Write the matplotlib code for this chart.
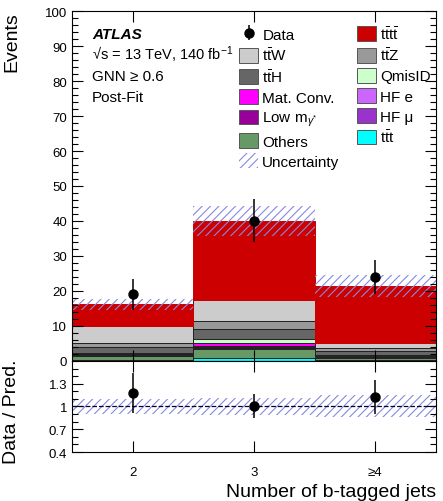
import numpy as np
import matplotlib
matplotlib.use("Agg")
import matplotlib.pyplot as plt
from matplotlib.patches import Patch
from matplotlib.ticker import MultipleLocator, FixedLocator

plt.rcParams['font.family'] = ['Liberation Sans', 'DejaVu Sans']
plt.rcParams['mathtext.fontset'] = 'custom'
plt.rcParams['mathtext.rm'] = 'Liberation Sans'
plt.rcParams['mathtext.it'] = 'Liberation Sans:italic'
plt.rcParams['mathtext.bf'] = 'Liberation Sans:bold'
plt.rcParams['hatch.linewidth'] = 0.8

# ビン (b-tag 数)
bins = [2, 3, 4]
bin_labels = ['2', '3', '≥4']

# データ点
data = [19.0, 40.0, 24.0]
data_err_up = [4.4, 6.4, 4.9]
data_err_dn = [4.3, 6.1, 4.8]

# 予測 (下から積み上げる順)
ttt = [0.4, 0.9, 0.2]
others = [1.0, 2.4, 0.6]
hf_mu = [0.2, 0.3, 0.2]
low_mg = [0.2, 0.5, 0.2]
hf_e = [0.1, 0.2, 0.1]
mat_conv = [0.3, 0.7, 0.1]
qmisid = [0.2, 1.2, 0.2]
tth = [1.6, 3.0, 1.3]
ttz = [1.2, 2.2, 0.8]
ttw = [4.8, 5.9, 1.4]
tttt = [6.2, 22.7, 16.3]

# 予測の不確かさ
pred_unc = [1.6, 4.3, 3.1]

stack = [
    (ttt, '#00FFFF', r'$\mathrm{t\bar{t}t}$'),
    (others, '#669966', 'Others'),
    (hf_mu, '#9933CC', 'HF μ'),
    (low_mg, '#990099', r'Low m$_{\gamma^{*}}$'),
    (hf_e, '#CC66FF', 'HF e'),
    (mat_conv, '#FF00FF', 'Mat. Conv.'),
    (qmisid, '#CCFFCC', 'QmisID'),
    (tth, '#666666', r'$\mathrm{t\bar{t}H}$'),
    (ttz, '#999999', r'$\mathrm{t\bar{t}Z}$'),
    (ttw, '#CCCCCC', r'$\mathrm{t\bar{t}W}$'),
    (tttt, '#CC0000', r'$\mathrm{t\bar{t}t\bar{t}}$'),
]

hatch_col = '#8888DD'

fig = plt.figure(figsize=(4.43, 5.02), dpi=100)
ax = fig.add_axes([0.1625, 0.279, 0.8215, 0.697])
ax2 = fig.add_axes([0.1625, 0.0976, 0.8215, 0.1814], sharex=ax)

x = np.array(bins, dtype=float)
bottom = np.zeros(3)
handles = {}
for vals, col, lab in stack:
    v = np.array(vals)
    ec = col if lab.startswith(r'$\mathrm{t\bar{t}t\bar{t}}') else '#222222'
    ax.bar(x, v, bottom=bottom, width=1.0, color=col, edgecolor=ec, linewidth=0.7)
    handles[lab] = Patch(facecolor=col, edgecolor='#555555', linewidth=0.7)
    bottom = bottom + v
total = bottom

unc = np.array(pred_unc)
ax.bar(x, 2 * unc, bottom=total - unc, width=1.0, fill=False, hatch='////',
       edgecolor=hatch_col, linewidth=0)
unc_handle = Patch(facecolor='none', edgecolor=hatch_col, hatch='////', linewidth=0)

d = np.array(data)
eb = ax.errorbar(x, d, yerr=[data_err_dn, data_err_up], fmt='o', color='black',
                 markersize=6.5, elinewidth=1.1, capsize=0)

ax.set_xlim(1.5, 4.5)
ax.set_ylim(0, 100)
ax.yaxis.set_major_locator(MultipleLocator(10))
ax.yaxis.set_minor_locator(MultipleLocator(2))
ax.xaxis.set_major_locator(FixedLocator(bins))
ax.tick_params(which='both', direction='in', top=True, right=True, labelsize=9.5)
ax.tick_params(which='major', length=8, width=0.8)
ax.tick_params(which='minor', length=4, width=0.8)
ax.tick_params(axis='x', labelbottom=False)
ax.set_ylabel('Events', fontsize=14, loc='top')
ax.yaxis.set_label_coords(-0.143, 1.0)

# ラベル
ax.text(0.055, 0.933, 'ATLAS', transform=ax.transAxes, fontsize=11,
        fontweight='bold', fontstyle='italic', va='center')
ax.text(0.055, 0.877, '√s = 13 TeV, 140 fb$^{-1}$', transform=ax.transAxes,
        fontsize=10.5, va='center')
ax.text(0.055, 0.814, 'GNN ≥ 0.6', transform=ax.transAxes, fontsize=11, va='center')
ax.text(0.055, 0.754, 'Post-Fit', transform=ax.transAxes, fontsize=11, va='center')

order1 = ['Data', r'$\mathrm{t\bar{t}W}$', r'$\mathrm{t\bar{t}H}$', 'Mat. Conv.',
          r'Low m$_{\gamma^{*}}$', 'Others', 'Uncertainty']
order2 = [r'$\mathrm{t\bar{t}t\bar{t}}$', r'$\mathrm{t\bar{t}Z}$', 'QmisID', 'HF e',
          'HF μ', r'$\mathrm{t\bar{t}t}$']
leg_h, leg_l = [], []
for lab in order1 + order2:
    if lab == 'Data':
        leg_h.append(eb)
    elif lab == 'Uncertainty':
        leg_h.append(unc_handle)
    else:
        leg_h.append(handles[lab])
    leg_l.append(lab)
ax.legend(leg_h, leg_l, ncol=2, loc='upper left', bbox_to_anchor=(0.46, 0.96),
          frameon=False, fontsize=11, handlelength=1.25, handleheight=1.1,
          handletextpad=0.25, labelspacing=0.3, columnspacing=1.15, borderpad=0,
          borderaxespad=0)

# 比の図
ratio = d / total
r_up = (d + np.array(data_err_up)) / total - ratio
r_dn = ratio - (d - np.array(data_err_dn)) / total
rel = unc / total
ax2.bar(x, 2 * rel, bottom=1 - rel, width=1.0, fill=False, hatch='////',
        edgecolor=hatch_col, linewidth=0)
ax2.axhline(1.0, ls='--', color='#000033', lw=0.9)
ax2.errorbar(x, ratio, yerr=[r_dn, r_up], fmt='o', color='black',
             markersize=6.5, elinewidth=1.1, capsize=0)
ax2.set_ylim(0.4, 1.6)
ax2.yaxis.set_major_locator(FixedLocator([0.4, 0.7, 1.0, 1.3]))
ax2.yaxis.set_minor_locator(MultipleLocator(0.1))
ax2.set_yticklabels(['0.4', '0.7', '1', '1.3'])
ax2.set_xticks(bins)
ax2.set_xticklabels(bin_labels)
ax2.tick_params(which='both', direction='in', top=True, right=True, labelsize=9.5)
ax2.tick_params(which='major', length=8, width=0.8)
ax2.tick_params(which='minor', length=4, width=0.8)
ax2.tick_params(axis='x', pad=10)
ax2.set_ylabel('Data / Pred.', fontsize=14)
ax2.yaxis.set_label_coords(-0.143, 0.45)
ax2.set_xlabel('Number of b-tagged jets', fontsize=14, loc='right')

for a in (ax, ax2):
    for s in a.spines.values():
        s.set_linewidth(0.8)

fig.savefig('out.png', dpi=100)
